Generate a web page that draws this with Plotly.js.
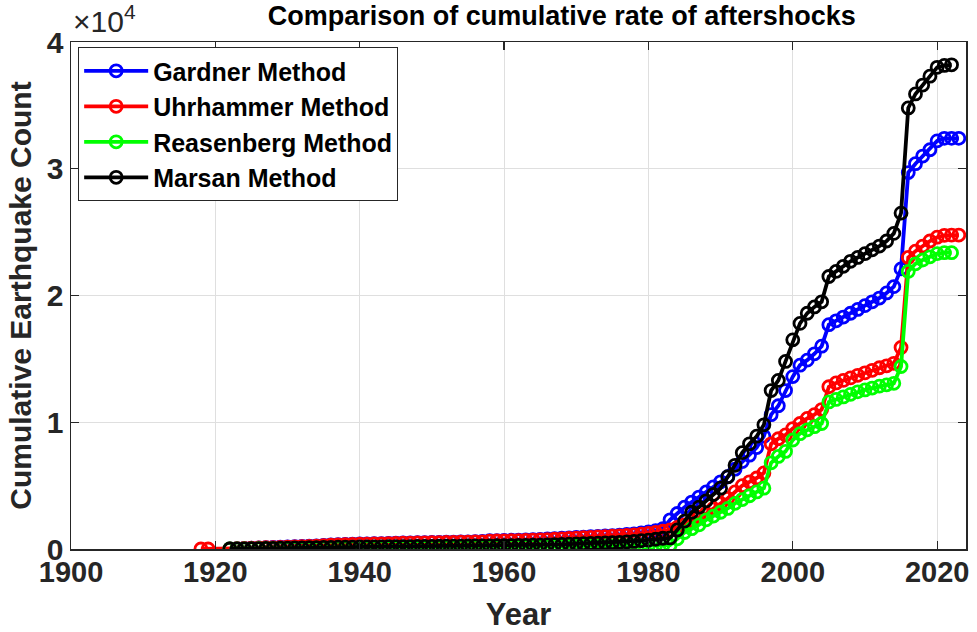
<!DOCTYPE html>
<html>
<head>
<meta charset="utf-8">
<script src="https://cdn.plot.ly/plotly-3.0.1.min.js"></script>
<style>html,body{margin:0;padding:0;background:#fff;}#chart{width:977px;height:632px;}</style>
</head>
<body>
<div id="chart"></div>
<script>
const years = [1918,1919,1920,1921,
1922,1923,1924,1925,1926,1927,1928,1929,1930,1931,
1932,1933,1934,1935,1936,1937,1938,1939,1940,1941,
1942,1943,1944,1945,1946,1947,1948,1949,1950,1951,
1952,1953,1954,1955,1956,1957,1958,1959,1960,1961,
1962,1963,1964,1965,1966,1967,1968,1969,1970,1971,
1972,1973,1974,1975,1976,1977,1978,1979,1980,1981,
1982,
1983,1984,1985,1986,1987,1988,1989,1990,1991,1992,
1993,1994,1995,1996,1997,1998,1999,2000,2001,2002,
2003,2004,2005,2006,2007,2008,2009,2010,2011,2012,
2013,2014,2015,2016,2017,2018,2019,2020,2021,2022,
2023];

const gardner = [null,null,null,null,
10,30,50,70,90,110,130,150,170,190,
210,230,250,280,320,340,360,380,400,410,
420,430,450,470,480,490,500,510,520,530,
540,550,560,570,580,600,650,660,680,690,
700,720,740,760,790,820,850,880,910,940,
970,1000,1030,1060,1100,1150,1200,1270,1350,1450,
1600,
2300,2800,3300,3700,4100,4500,4900,5300,5700,6300,
6900,7400,8000,8900,10600,11300,12500,13600,14500,14900,
15400,16000,17700,18000,18300,18600,18900,19200,19500,19800,
20200,20700,22100,29700,30400,31000,31500,32200,32400,32400,
32400];

const uhrhammer = [0,0,null,null,
10,25,45,60,80,100,115,130,150,170,
190,210,230,260,300,320,340,360,380,390,
400,410,430,450,460,470,480,490,500,510,
520,530,540,550,560,570,620,630,640,650,
660,680,700,720,740,770,800,830,860,890,
920,950,980,1010,1040,1080,1120,1170,1230,1300,
1400,
1500,1700,1900,2200,2500,2800,3200,3600,4000,4500,
5000,5300,5600,6000,8300,8700,9000,9500,9900,10300,
10600,11000,12800,13100,13300,13500,13700,13900,14100,14300,
14450,14650,15900,23000,23500,23900,24300,24600,24750,24770,
24770];

const reasenberg = [null,null,null,null,
0,5,10,15,20,25,30,35,40,45,
50,55,60,65,70,75,80,85,90,95,
100,100,105,110,110,115,120,120,125,130,
130,135,140,140,145,150,155,160,165,170,
175,180,185,190,195,200,205,210,215,220,
225,230,235,240,245,250,255,260,270,280,
290,
300,800,1300,1600,1900,2300,2600,2900,3200,3600,
3900,4200,4500,4800,6800,7300,7700,8600,9100,9400,
9650,9900,11600,11800,12000,12200,12400,12550,12700,12850,
12950,13070,14400,21900,22500,22800,23050,23300,23380,23380,
null];

const marsan = [null,null,null,null,
0,5,15,25,35,45,55,65,75,85,
95,105,115,125,135,145,150,155,160,165,
170,175,180,185,190,195,200,205,210,215,
220,225,230,235,240,245,250,255,260,270,
280,290,300,310,320,340,360,380,400,420,
440,460,480,500,530,560,600,650,700,770,
850,
870,1500,2200,2900,3300,3800,4300,4800,5700,6600,
7600,8300,8900,9800,12500,13300,14800,16500,17800,18600,
19100,19500,21500,21900,22300,22700,23000,23300,23600,23900,
24300,24900,26500,34800,35900,36600,37300,38000,38150,38200,
null];

const seriesNames = ['Gardner Method','Uhrhammer Method','Reasenberg Method','Marsan Method'];
const seriesColors = ['#0000ff','#ff0000','#00ff00','#000000'];
const seriesValues = [gardner, uhrhammer, reasenberg, marsan];

const yTickVals = [0,10000,20000,30000,40000];
const yTickText = ['0','1','2','3','4'];
const xTickVals = [1900,1920,1940,1960,1980,2000,2020];

const traces = seriesValues.map((vals,i)=>({
  x: years, y: vals, name: seriesNames[i], type:'scatter', mode:'lines+markers',
  connectgaps: true,
  line:{color:seriesColors[i], width:3.8},
  marker:{symbol:'circle-open', size:12, color:seriesColors[i], line:{width:2.8, color:seriesColors[i]}}
}));

const FONT = 'Liberation Sans, Arial, sans-serif';

const layout = {
  width:977, height:632,
  margin:{l:71, r:11, t:42, b:83},
  paper_bgcolor:'#fff', plot_bgcolor:'#fff',
  font:{family:FONT, color:'#000'},
  title:{text:'<b>Comparison of cumulative rate of aftershocks</b>', font:{family:FONT, size:27, color:'#000'},
         x:0.575, xanchor:'center', y:0.975, yanchor:'middle'},
  xaxis:{range:[1900,2024], tickvals:xTickVals, ticks:'inside', ticklen:8, tickwidth:1.2, tickcolor:'#262626',
         showline:true, linecolor:'#262626', linewidth:1.5, mirror:'ticks',
         showgrid:true, gridcolor:'#dfdfdf', gridwidth:1, zeroline:false,
         ticklabelstandoff:-3,
         tickfont:{family:FONT, size:29, color:'#262626', weight:'bold'},
         title:{text:'<b>Year</b>', font:{family:FONT, size:31, color:'#262626'}, standoff:20}},
  yaxis:{range:[0,40000], tickvals:yTickVals, ticktext:yTickText, ticks:'inside', ticklen:8, tickwidth:1.2, tickcolor:'#262626',
         showline:true, linecolor:'#262626', linewidth:1.5, mirror:'ticks',
         showgrid:true, gridcolor:'#dfdfdf', gridwidth:1, zeroline:false,
         tickfont:{family:FONT, size:30, color:'#262626', weight:'bold'},
         title:{text:'<b>Cumulative Earthquake Count</b>', font:{family:FONT, size:30, color:'#262626'}, standoff:6}},
  legend:{x:0.008, y:0.99, xanchor:'left', yanchor:'top', bgcolor:'#fff', bordercolor:'#262626', borderwidth:1,
          font:{family:FONT, size:25, color:'#000', weight:'bold'}, tracegroupgap:0, itemwidth:64},
  showlegend:true,
  annotations:[{xref:'paper', yref:'paper', x:0, y:1, xanchor:'left', yanchor:'bottom', yshift:2,
                text:'×10<sup>4</sup>', showarrow:false, font:{family:FONT, size:30, color:'#262626'}}]
};

Plotly.newPlot('chart', traces, layout, {displayModeBar:false, staticPlot:true});
</script>
</body>
</html>
